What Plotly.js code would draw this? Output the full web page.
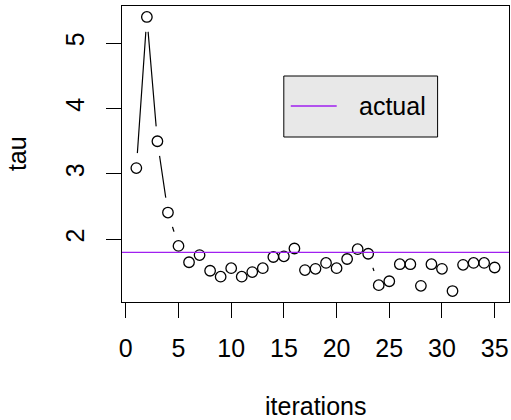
<!DOCTYPE html>
<html>
<head>
<meta charset="utf-8">
<script src="https://cdn.plot.ly/plotly-3.0.1.min.js"></script>
<style>html,body{margin:0;padding:0;background:#fff;}#chart{width:511px;height:420px;}</style>
</head>
<body>
<div id="chart"></div>
<script>
// ---- data ----
const iterations = [1,2,3,4,5,6,7,8,9,10,11,12,13,14,15,16,17,18,19,20,21,22,23,24,25,26,27,28,29,30,31,32,33,34,35];
const tau = [3.09,5.40,3.50,2.41,1.90,1.65,1.76,1.52,1.43,1.56,1.43,1.50,1.56,1.73,1.74,1.86,1.53,1.55,1.64,1.56,1.70,1.85,1.78,1.30,1.36,1.62,1.62,1.29,1.62,1.55,1.21,1.61,1.64,1.64,1.57];
const actualTau = 1.8;
const xTicks = [0,5,10,15,20,25,30,35];
const yTicks = [2,3,4,5];
const legendLabel = 'actual';
const xLabel = 'iterations';
const yLabel = 'tau';

// R-style 4% axis padding
function padRange(v){const lo=Math.min(...v),hi=Math.max(...v),d=(hi-lo)*0.04;return [lo-d,hi+d];}
const xr = padRange(iterations), yr = padRange(tau);

const FONT = 'Liberation Sans, Arial, Helvetica, sans-serif';
const FS = 25;
const PURPLE = '#a020f0';

const traces = [
  {x: iterations, y: tau, mode: 'lines', line: {color: '#000', width: 1.2}, hoverinfo: 'skip', showlegend: false},
  // white halo to give the R type="b" gaps around points
  {x: iterations, y: tau, mode: 'markers', marker: {symbol: 'circle', size: 30, color: '#fff', line: {width: 0}}, hoverinfo: 'skip', showlegend: false},
  {x: iterations, y: tau, mode: 'markers', marker: {symbol: 'circle-open', size: 10.5, color: '#000', line: {width: 1.3, color: '#000'}}, showlegend: false}
];

const layout = {
  width: 511, height: 420,
  margin: {l: 122, r: 1.5, t: 6, b: 118},
  paper_bgcolor: '#fff', plot_bgcolor: '#fff',
  font: {family: FONT, color: '#000', size: FS},
  showlegend: false,
  xaxis: {range: xr, tickvals: xTicks, ticktext: xTicks.map(String), ticks: 'outside', ticklen: 15, tickwidth: 1, tickcolor: '#000',
          showline: true, mirror: true, linecolor: '#000', linewidth: 1, showgrid: false, zeroline: false,
          tickfont: {size: FS, family: FONT}, ticklabelstandoff: 9},
  yaxis: {range: yr, tickvals: yTicks, ticktext: yTicks.map(String), ticks: 'outside', ticklen: 15, tickwidth: 1, tickcolor: '#000',
          showline: true, mirror: true, linecolor: '#000', linewidth: 1, showgrid: false, zeroline: false,
          tickangle: -90, tickfont: {size: FS, family: FONT}, ticklabelstandoff: 12},
  shapes: [
    {type: 'line', xref: 'paper', x0: 0, x1: 1, yref: 'y', y0: actualTau, y1: actualTau, line: {color: PURPLE, width: 1.3}, layer: 'above'},
    {type: 'rect', xref: 'paper', yref: 'paper', x0: 0.4181, x1: 0.8155, y0: 0.5574, y1: 0.7635, fillcolor: '#e8e8e8', line: {color: '#000', width: 1}, layer: 'above'},
    {type: 'line', xref: 'paper', yref: 'paper', x0: 0.4361, x1: 0.5548, y0: 0.6622, y1: 0.6622, line: {color: PURPLE, width: 1.3}, layer: 'above'}
  ],
  annotations: [
    {text: legendLabel, xref: 'paper', yref: 'paper', x: 0.608, y: 0.6622, xanchor: 'left', yanchor: 'middle', showarrow: false, font: {size: FS, family: FONT}},
    {text: xLabel, xref: 'paper', yref: 'paper', x: 0.5, y: -0.351, xanchor: 'center', yanchor: 'middle', showarrow: false, font: {size: FS, family: FONT}},
    {text: yLabel, xref: 'paper', yref: 'paper', x: -0.271, y: 0.5, xanchor: 'center', yanchor: 'middle', textangle: -90, showarrow: false, font: {size: FS, family: FONT}}
  ]
};

Plotly.newPlot('chart', traces, layout, {displayModeBar: false, staticPlot: true});
</script>
</body>
</html>
